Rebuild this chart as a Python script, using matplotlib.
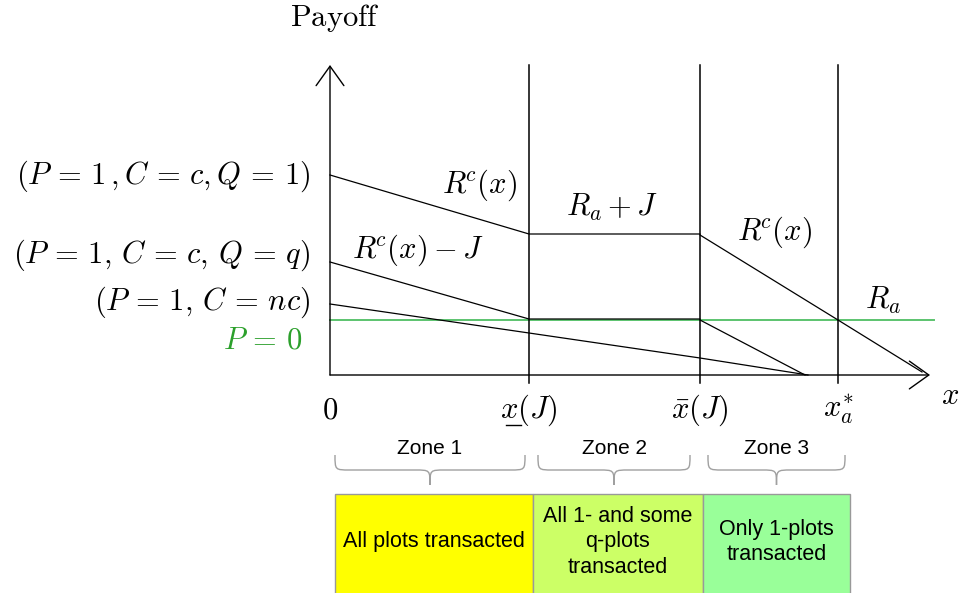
import matplotlib
matplotlib.use("Agg")
import matplotlib.pyplot as plt
from matplotlib.patches import Rectangle, PathPatch
from matplotlib.path import Path

plt.rcParams['mathtext.fontset'] = 'cm'

# ---- data (diagram units) ----
x_low, x_bar, x_star, x_end = 199, 370, 508, 600
y_top = 310
# upper payoff R^c(x) / R_a + J / R^c(x)
top_x = [0, x_low, x_low, x_bar, x_bar, x_star, 592]
top_y = [200, 141, 141, 141, 140, 55, 3]
# middle payoff R^c(x) - J
mid_x = [0, x_low, x_bar, x_bar, 475]
mid_y = [113, 56, 56, 55, 0]
# lower payoff (P=1, C=nc)
low_x = [0, x_low, x_bar, 478]
low_y = [71, 42, 17, 0]
# P = 0 level (R_a)
green_y = 55
green_x = [0, 604]

left_labels = [r'$(P\,=\,1\,,C\,=\,c,Q\,=\,1)$',
               r'$(P\,=\,1,\,C\,=\,c,\,Q\,=\,q)$',
               r'$(P\,=\,1,\,C\,=\,nc)$']
left_label_y = [199, 120, 73]
xtick_pos = [0, x_low, x_bar, x_star]
xtick_labels = [r'$0$', r'$x(J)$', r'$\bar{x}(J)$', r'$x_a^{*}$']

zone_names = ['Zone 1', 'Zone 2', 'Zone 3']
zone_texts = ['All plots transacted', 'All 1- and some\nq-plots\ntransacted',
              'Only 1-plots\ntransacted']
zone_colors = ['#ffff00', '#ccff66', '#99ff99']
box_edges = [5, 203, 373, 520]
brace_spans = [(5, 195), (208, 360), (378, 515)]

fig = plt.figure(figsize=(9.59, 5.93), dpi=100)
ax = fig.add_axes([0, 0, 1, 1])
ax.set_xlim(-330, 629)
ax.set_ylim(-218, 375)
ax.axis('off')

lw = 0.9
# axes arrows
arr = dict(arrowstyle='->,head_length=1.4,head_width=1.0', lw=1.0, color='black',
           shrinkA=0, shrinkB=0, mutation_scale=10)
ax.annotate('', xy=(0, y_top), xytext=(0, 0), arrowprops=arr)
ax.annotate('', xy=(x_end, 0), xytext=(0, 0), arrowprops=arr)

# vertical lines
for xv in [x_low, x_bar, x_star]:
    ax.plot([xv, xv], [-8, y_top], color='black', lw=1.1)

ax.plot(green_x, [green_y, green_y], color='#5cc36f', lw=1.4, zorder=1)
ax.plot(top_x, top_y, color='black', lw=lw, zorder=2)
ax.plot(mid_x, mid_y, color='black', lw=lw, zorder=2)
ax.plot(low_x, low_y, color='black', lw=lw, zorder=2)

fs = 22
ax.text(5, 357, r'$\mathrm{Payoff}$', fontsize=fs, ha='center', va='center')
for lab, yy in zip(left_labels, left_label_y):
    ax.text(-20, yy, lab, fontsize=fs, ha='right', va='center')
ax.text(-28, 35, r'$P\,=\,0$', fontsize=fs, ha='right', va='center', color='#2ca02c')

for xp, lab in zip(xtick_pos, xtick_labels):
    ax.text(xp, -35, lab, fontsize=fs, ha='center', va='center')
# underline of the lower threshold symbol
ax.plot([x_low - 23, x_low - 8], [-50, -50], color='black', lw=1.0)
ax.text(620, -21, r'$x$', fontsize=fs, ha='center', va='center')

ax.text(150, 190, r'$R^{\!c}(x)$', fontsize=fs, ha='center', va='center')
ax.text(282, 168, r'$R_a+J$', fontsize=fs, ha='center', va='center')
ax.text(445, 143, r'$R^{\!c}(x)$', fontsize=fs, ha='center', va='center')
ax.text(553, 75, r'$R_a$', fontsize=fs, ha='center', va='center')
ax.text(88, 125, r'$R^{\!c}(x)-J$', fontsize=fs, ha='center', va='center')

# braces
def brace(x0, x1, y_end=-80, y_mid=-95, y_tip=-110, r=15):
    xm = (x0 + x1) / 2
    verts = [(x0, y_end), (x0, y_mid), (x0, y_mid), (x0 + r, y_mid),
             (xm - r, y_mid),
             (xm, y_mid), (xm, y_mid), (xm, y_tip),
             (xm, y_mid), (xm, y_mid), (xm + r, y_mid),
             (x1 - r, y_mid),
             (x1, y_mid), (x1, y_mid), (x1, y_end)]
    codes = [Path.MOVETO, Path.CURVE4, Path.CURVE4, Path.CURVE4,
             Path.LINETO,
             Path.CURVE4, Path.CURVE4, Path.CURVE4,
             Path.CURVE4, Path.CURVE4, Path.CURVE4,
             Path.LINETO,
             Path.CURVE4, Path.CURVE4, Path.CURVE4]
    ax.add_patch(PathPatch(Path(verts, codes), fill=False, edgecolor='#a0a0a0', lw=1.0))

for (b0, b1), name in zip(brace_spans, zone_names):
    brace(b0, b1)
    ax.text((b0 + b1) / 2, -74, name, fontsize=15, family='Liberation Sans',
            ha='center', va='center')

for i, (txt, col) in enumerate(zip(zone_texts, zone_colors)):
    x0, x1 = box_edges[i], box_edges[i + 1]
    ax.add_patch(Rectangle((x0, -230), x1 - x0, 111, facecolor=col,
                           edgecolor='#999999', lw=1.0))
    ax.text((x0 + x1) / 2, -167, txt, fontsize=15.5, family='Liberation Sans',
            ha='center', va='center', linespacing=1.3)

fig.savefig('out.png', dpi=100)
